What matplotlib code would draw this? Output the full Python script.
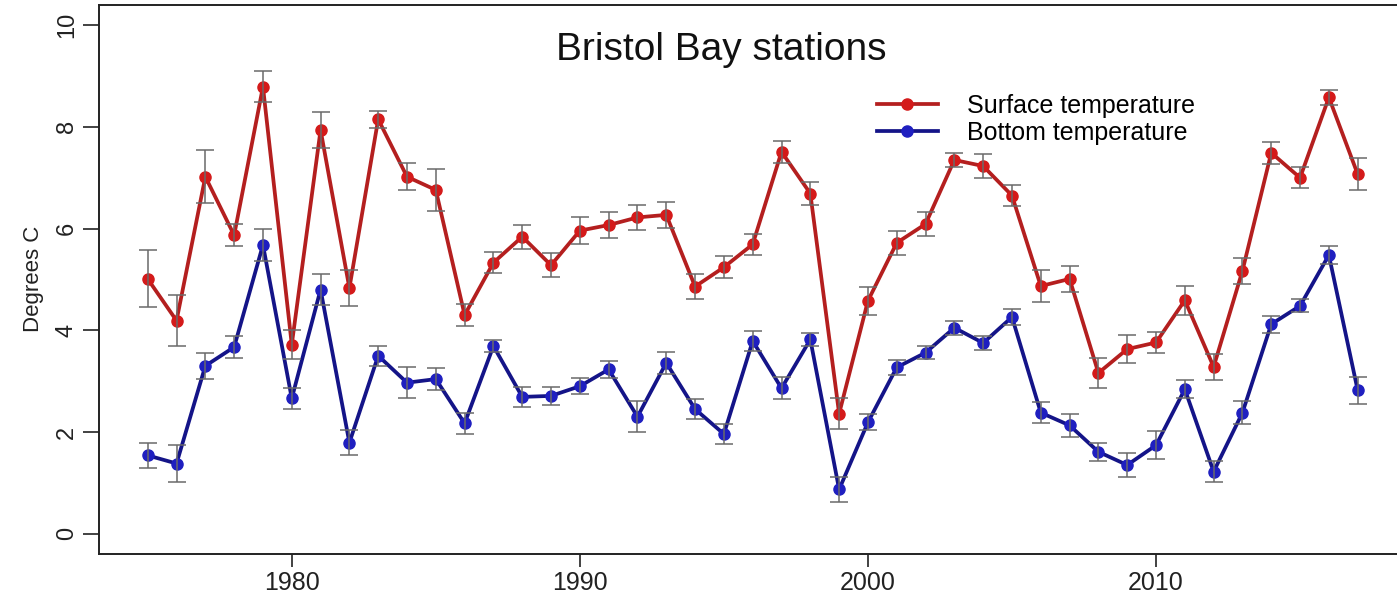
import matplotlib
matplotlib.use("Agg")
import matplotlib.pyplot as plt

plt.rcParams['font.family'] = ['Liberation Sans', 'DejaVu Sans']

# data
years = list(range(1975, 2018))

surface = [5.01, 4.19, 7.02, 5.87, 8.79, 3.72, 7.94, 4.83, 8.15, 7.02, 6.76, 4.30,
           5.33, 5.84, 5.28, 5.96, 6.07, 6.22, 6.27, 4.86, 5.24, 5.69, 7.51, 6.69, 2.36,
           4.58, 5.72, 6.09, 7.35, 7.23, 6.65, 4.87, 5.01, 3.16, 3.63, 3.76, 4.59, 3.28, 5.17,
           7.49, 7.00, 8.58, 7.07]
surface_err = [0.56, 0.50, 0.52, 0.22, 0.30, 0.28, 0.35, 0.36, 0.17, 0.27, 0.41, 0.22,
               0.20, 0.24, 0.24, 0.27, 0.26, 0.25, 0.25, 0.24, 0.22, 0.21, 0.22, 0.23, 0.30,
               0.27, 0.23, 0.23, 0.14, 0.24, 0.20, 0.32, 0.25, 0.30, 0.27, 0.21, 0.28, 0.26, 0.25,
               0.21, 0.21, 0.15, 0.31]

bottom = [1.54, 1.38, 3.30, 3.67, 5.68, 2.66, 4.80, 1.79, 3.50, 2.97, 3.04, 2.17,
          3.69, 2.69, 2.71, 2.90, 3.23, 2.30, 3.36, 2.45, 1.96, 3.79, 2.86, 3.82, 0.87,
          2.19, 3.27, 3.56, 4.05, 3.75, 4.26, 2.38, 2.13, 1.61, 1.35, 1.74, 2.84, 1.22, 2.38,
          4.12, 4.48, 5.48, 2.82]
bottom_err = [0.25, 0.36, 0.26, 0.22, 0.31, 0.21, 0.30, 0.25, 0.20, 0.30, 0.21, 0.20,
              0.11, 0.20, 0.17, 0.16, 0.16, 0.30, 0.21, 0.20, 0.19, 0.20, 0.22, 0.12, 0.25,
              0.16, 0.14, 0.13, 0.14, 0.13, 0.15, 0.20, 0.22, 0.18, 0.24, 0.27, 0.18, 0.20, 0.23,
              0.17, 0.13, 0.17, 0.27]

xticks = [1980, 1990, 2000, 2010]
yticks = [0, 2, 4, 6, 8, 10]

red_line = '#b41f1f'
red_pt = '#d41a1a'
blue_line = '#141488'
blue_pt = '#1f1fc0'
bar_col = '#6a6a6a'

fig = plt.figure(figsize=(13.97, 5.94), dpi=100)
ax = fig.add_axes([0.0711, 0.0673, 0.9354, 0.9245])

ax.plot(years, surface, color=red_line, lw=2.7, marker='o', ms=8,
        mfc=red_pt, mec=red_pt, zorder=2, label='Surface temperature')
ax.plot(years, bottom, color=blue_line, lw=2.7, marker='o', ms=8,
        mfc=blue_pt, mec=blue_pt, zorder=2, label='Bottom temperature')
ax.errorbar(years, surface, yerr=surface_err, fmt='none', ecolor=bar_col,
            elinewidth=1.1, capsize=6.5, capthick=1.1, zorder=3)
ax.errorbar(years, bottom, yerr=bottom_err, fmt='none', ecolor=bar_col,
            elinewidth=1.1, capsize=6.5, capthick=1.1, zorder=3)

ax.set_xlim(1973.32, 2018.68)
ax.set_ylim(-0.4, 10.4)
ax.set_xticks(xticks)
ax.set_yticks(yticks)
ax.tick_params(axis='x', length=9.5, width=1.2, pad=3, labelsize=18, colors='#222222')
ax.tick_params(axis='y', length=11.5, width=1.2, pad=4, labelsize=17, colors='#222222')
for lab in ax.get_yticklabels():
    lab.set_rotation(90)
    lab.set_va('center')
for sp in ax.spines.values():
    sp.set_linewidth(1.4)
    sp.set_color('#222222')

fig.text(33 / 1397, 0.53, 'Degrees C', rotation=90, ha='center', va='center',
         fontsize=16, color='#222222')
ax.text(0.5165, 1 - 50 / 594, 'Bristol Bay stations', transform=fig.transFigure,
        ha='center', va='center', fontsize=28, color='#111111')

ax.legend(loc='upper left', bbox_to_anchor=(876.7 / 1397, 1 - 94 / 594),
          bbox_transform=fig.transFigure, frameon=False, fontsize=18,
          borderpad=0, borderaxespad=0, handlelength=2.46, handletextpad=1.14,
          labelspacing=0.12, numpoints=1)

fig.savefig('out.png', dpi=100)
